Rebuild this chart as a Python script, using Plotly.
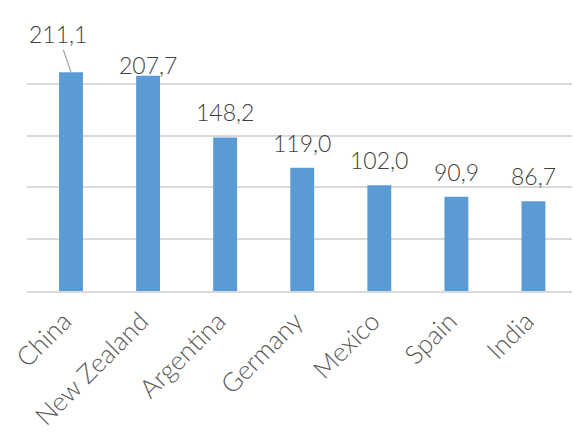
import plotly.graph_objects as go

# Values per country
countries = ["China", "New Zealand", "Argentina", "Germany", "Mexico", "Spain", "India"]
values = [211.1, 207.7, 148.2, 119.0, 102.0, 90.9, 86.7]

# Decimal-comma labels built from the values
labels = [f"{v:.1f}".replace(".", ",") for v in values]

BAR_COLOR = "#5B9BD5"
GRID_COLOR = "#D9D9D9"
TEXT_COLOR = "#404040"
TICK_COLOR = "#595959"
FONT = "Lato"

fig = go.Figure(
    go.Bar(
        x=countries,
        y=values,
        marker=dict(color=BAR_COLOR, line=dict(width=0)),
        width=0.31,
        hoverinfo="skip",
    )
)

# Value labels above the bars; the first one sits up-left on a leader line,
# the second is tucked closer to its bar
label_font = dict(family=FONT, size=23, color=TEXT_COLOR, weight=300)
for i, (c, v, lab) in enumerate(zip(countries, values, labels)):
    if i == 0:
        fig.add_annotation(
            x=c, y=v, text=lab,
            showarrow=True, arrowhead=0, arrowwidth=1.2, arrowcolor="#A6A6A6",
            ax=-13, ay=-38, standoff=0,
            font=label_font,
        )
    else:
        fig.add_annotation(
            x=c, y=v, text=lab, showarrow=False,
            yanchor="bottom", yshift=-5 if i == 1 else 9,
            font=label_font,
        )

fig.update_layout(
    width=573,
    height=434,
    margin=dict(l=27, r=1, t=32, b=143),
    paper_bgcolor="white",
    plot_bgcolor="white",
    showlegend=False,
    xaxis=dict(
        automargin=False,
        tickangle=-45,
        tickfont=dict(family=FONT, size=26, color=TICK_COLOR, weight=300),
        ticklabelshift=-7,
        ticklabelstandoff=3,
        showline=True,
        linecolor=GRID_COLOR,
        linewidth=1.5,
        ticks="",
        showgrid=False,
    ),
    yaxis=dict(
        automargin=False,
        range=[0, 250],
        dtick=50,
        showticklabels=False,
        showgrid=True,
        gridcolor=GRID_COLOR,
        gridwidth=1.5,
        zeroline=False,
        ticks="",
    ),
)

fig.write_html("out.html")
